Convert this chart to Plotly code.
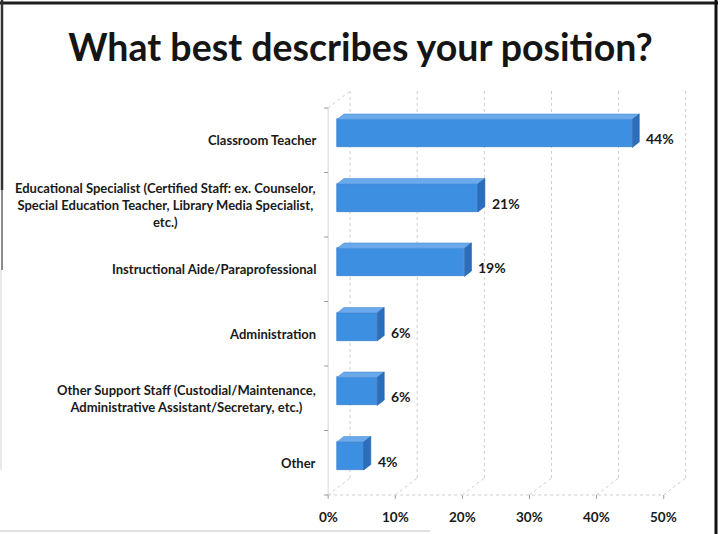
import plotly.graph_objects as go

# ---- data -------------------------------------------------------------
title_text = "What best describes your position?"
categories = [
    "Classroom Teacher",
    "Educational Specialist (Certified Staff: ex. Counselor,<br>"
    "Special Education Teacher, Library Media Specialist,<br>etc.)",
    "Instructional Aide/Paraprofessional",
    "Administration",
    "Other Support Staff (Custodial/Maintenance,<br>"
    "Administrative Assistant/Secretary, etc.)",
    "Other",
]
values = [44, 21, 19, 6, 6, 4]
x_ticks = [0, 10, 20, 30, 40, 50]
x_tick_labels = ["0%", "10%", "20%", "30%", "40%", "50%"]

# ---- pseudo-3D geometry (in axis units) --------------------------------
n = len(categories)
slots = [n - 1 - i for i in range(n)]          # first category on top
DX, DY = 3.27, 0.264                            # depth of the chart box
F0, F1 = 0.40, 0.72                             # bar front / back depth
BAR_W = 0.434
x_max = x_ticks[-1]
y_lo, y_hi = -0.5, n - 0.5

FONT = "Lato"
GRID = "#cdcdcd"
FRONT = "#3d8fe2"
TOP = "#6aa9ec"
SIDE = "#2b6ebd"

fig = go.Figure()
shapes = []

def seg(x0, y0, x1, y1, color=GRID, dash="dot", width=1):
    shapes.append(dict(type="line", xref="x", yref="y", x0=x0, y0=y0,
                       x1=x1, y1=y1, layer="below",
                       line=dict(color=color, width=width, dash=dash)))

# back wall gridlines and floor diagonals
for t in x_ticks:
    seg(t + DX, y_lo + DY, t + DX, y_hi + DY)
    seg(t, y_lo, t + DX, y_lo + DY)
    seg(t, y_lo, t, y_lo - 0.06, color="#999999", dash="solid")
# floor front edge
seg(0, y_lo, x_max, y_lo)
# left wall
seg(0, y_lo, 0, y_hi, color="#d6d6d6", dash="solid")
seg(0, y_hi, DX, y_hi + DY)
for k in range(n + 1):
    seg(-0.6, y_lo + k, 0, y_lo + k, color="#999999", dash="solid")

# bar top and side faces
b = F0 * DX
ddx, ddy = (F1 - F0) * DX, (F1 - F0) * DY
for s, v in zip(slots, values):
    yc = s + F0 * DY
    yt, yb = yc + BAR_W / 2, yc - BAR_W / 2
    fig.add_trace(go.Scatter(
        x=[b, b + v, b + v + ddx, b + ddx, b],
        y=[yt, yt, yt + ddy, yt + ddy, yt],
        fill="toself", fillcolor=TOP, mode="lines",
        line=dict(color="#4f8fd4", width=0.6),
        hoverinfo="skip", showlegend=False))
    fig.add_trace(go.Scatter(
        x=[b + v, b + v + ddx, b + v + ddx, b + v, b + v],
        y=[yb, yb + ddy, yt + ddy, yt, yb],
        fill="toself", fillcolor=SIDE, mode="lines",
        line=dict(color="#245fa8", width=0.6),
        hoverinfo="skip", showlegend=False))

# bar front faces
fig.add_trace(go.Bar(
    x=values, y=[s + F0 * DY for s in slots], base=b, orientation="h",
    width=BAR_W, marker=dict(color=FRONT, line=dict(color="#2f74c4", width=0.6)),
    hoverinfo="skip", showlegend=False))

annotations = []
# category labels
for s, c in zip(slots, categories):
    annotations.append(dict(
        x=-1.5, y=s, xref="x", yref="y", text=f"<b>{c}</b>",
        xanchor="right", yanchor="middle", align="center", showarrow=False,
        font=dict(family=FONT, size=13, color="#1a1a1a")))
# value labels
for s, v in zip(slots, values):
    annotations.append(dict(
        x=v + F1 * DX, y=s + 0.02, xref="x", yref="y", text=f"<b>{v}%</b>",
        xanchor="left", yanchor="middle", xshift=5, showarrow=False,
        font=dict(family=FONT, size=14, color="#1a1a1a")))
# value axis labels
for t, lab in zip(x_ticks, x_tick_labels):
    annotations.append(dict(
        x=t, y=y_lo, xref="x", yref="y", text=f"<b>{lab}</b>",
        xanchor="center", yanchor="middle", yshift=-22, showarrow=False,
        font=dict(family=FONT, size=13.5, color="#1a1a1a")))

# page frame (paper units; plot area spans x 308..704 px, y 85..500 px)
def px_x(p):
    return (p - 308) / 396.0

def px_y(p):
    return (500 - p) / 415.0

def frame(x0, y0, x1, y1, color, width):
    shapes.append(dict(type="line", xref="paper", yref="paper",
                       x0=px_x(x0), y0=px_y(y0), x1=px_x(x1), y1=px_y(y1),
                       line=dict(color=color, width=width)))

frame(0, 3, 718, 3, "#1c1c1c", 3)
frame(716, 0, 716, 534, "#111111", 3)
frame(2, 0, 2, 190, "#333333", 2.5)
frame(2, 190, 2, 270, "#8a8a8a", 2)
frame(1, 270, 1, 470, "#e2e2e2", 1.5)
frame(0, 531, 430, 531, "#d6d6d6", 1.5)

fig.update_layout(
    width=721, height=534, autosize=False,
    margin=dict(l=308, r=17, t=85, b=34),
    paper_bgcolor="white", plot_bgcolor="white",
    title=dict(text=f"<b>{title_text}</b>", x=360.5 / 721, xanchor="center",
               xref="container", y=1 - 48 / 534, yanchor="middle",
               yref="container",
               font=dict(family=FONT, size=37.5, color="#151515")),
    xaxis=dict(range=[-3, 56], visible=False, fixedrange=True),
    yaxis=dict(range=[-0.5775, 5.857], visible=False, fixedrange=True),
    shapes=shapes, annotations=annotations, bargap=0,
)

fig.write_html("out.html")
